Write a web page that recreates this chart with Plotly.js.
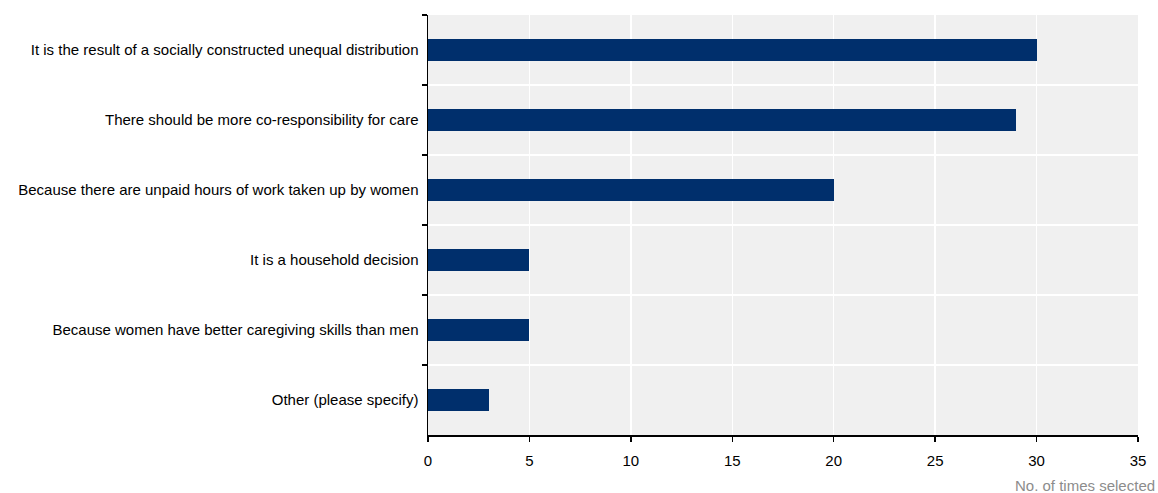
<!DOCTYPE html>
<html>
<head>
<meta charset="utf-8">
<script src="https://cdn.plot.ly/plotly-3.0.1.min.js"></script>
<style>html,body{margin:0;padding:0;background:#fff;}#chart{width:1158px;height:493px;}</style>
</head>
<body>
<div id="chart"></div>
<script>
const categories = [
  "It is the result of a socially constructed unequal distribution",
  "There should be more co-responsibility for care",
  "Because there are unpaid hours of work taken up by women",
  "It is a household decision",
  "Because women have better caregiving skills than men",
  "Other (please specify)"
];
const timesSelected = [30, 29, 20, 5, 5, 3];
const xTickValues = [0, 5, 10, 15, 20, 25, 30, 35];
const xAxisTitle = "No. of times selected";

const trace = {
  type: "bar",
  orientation: "h",
  x: timesSelected,
  y: categories,
  width: 0.31,
  marker: {color: "#002f6c", line: {width: 0}},
  hoverinfo: "x+y"
};

const layout = {
  width: 1158, height: 493,
  margin: {l: 428, r: 20, t: 15, b: 58},
  paper_bgcolor: "#ffffff",
  plot_bgcolor: "#f0f0f0",
  font: {family: "Liberation Sans, Arial, sans-serif", size: 15, color: "#000"},
  showlegend: false,
  bargap: 0,
  xaxis: {
    range: [0, 35],
    tickvals: xTickValues,
    showgrid: true, gridcolor: "#ffffff", gridwidth: 1.5,
    zeroline: false,
    showline: true, linecolor: "#000", linewidth: 1.5,
    ticks: "outside", ticklen: 5, tickcolor: "#000", tickwidth: 1.5,
    ticklabelstandoff: 6,
    tickfont: {size: 15, color: "#000"},
    fixedrange: true
  },
  yaxis: {
    type: "category",
    autorange: "reversed",
    tickson: "boundaries",
    showgrid: true, gridcolor: "#ffffff", gridwidth: 1.5,
    zeroline: false,
    showline: true, linecolor: "#000", linewidth: 1.5,
    ticks: "outside", ticklen: 5, tickcolor: "#000", tickwidth: 1.5,
    ticklabelstandoff: 5,
    tickfont: {size: 15, color: "#000"},
    fixedrange: true
  },
  annotations: [{
    text: xAxisTitle,
    xref: "paper", yref: "paper",
    x: 1, y: 0,
    xanchor: "right", yanchor: "middle",
    xshift: 19, yshift: -50,
    showarrow: false,
    font: {size: 15, color: "#8c8c8c"}
  }]
};

Plotly.newPlot("chart", [trace], layout, {displayModeBar: false, staticPlot: true});
</script>
</body>
</html>
